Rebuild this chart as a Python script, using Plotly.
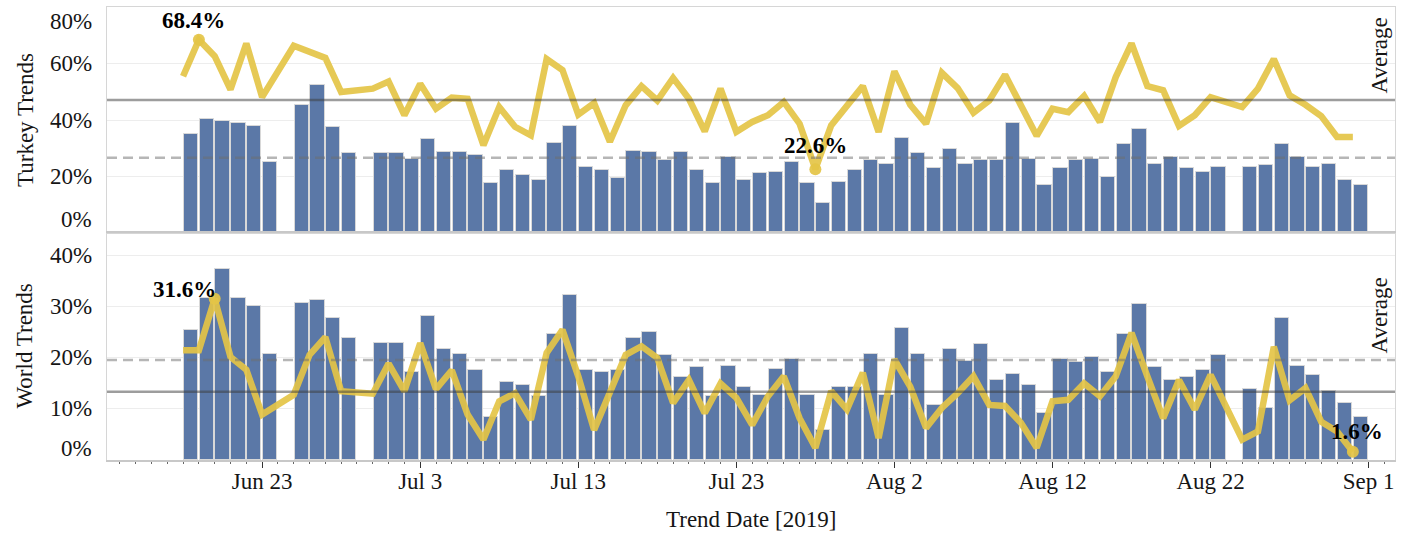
import pandas as pd
import plotly.graph_objects as go
from plotly.subplots import make_subplots

# daily trend dates (three days have no data)
all_days = pd.date_range("2019-06-18", "2019-08-31", freq="D")
missing_days = ["2019-06-24", "2019-06-29", "2019-08-23"]
dates = [d for d in all_days if d.strftime("%Y-%m-%d") not in missing_days]

turkey_bars = [
    35.2, 40.5, 39.7, 39.1, 38.0, 25.2,
    45.4, 52.5, 37.4, 28.4,
    28.4,
    28.4, 26.3, 33.2, 28.6, 28.6, 27.6, 17.6, 22.3, 20.5, 18.8, 32.0, 37.9, 23.3, 22.2, 19.4,
    29.1, 28.5, 25.7, 28.5, 22.2, 17.6, 26.9, 18.8, 21.1, 21.7, 25.2, 17.6, 10.6, 18.2, 22.2, 25.8,
    24.6, 33.8, 28.2, 22.9, 29.9, 24.6, 25.8, 25.8, 39.1, 26.2, 17.0, 22.9, 25.8, 26.3, 20.0,
    31.5, 36.7, 24.6, 27.0, 22.9, 21.7, 23.3,
    23.3, 24.1, 31.5, 27.0, 23.3, 24.6, 18.8, 17.0,
]
turkey_line = [
    55.5, 68.4, 62.6, 50.8, 67.1, 48.1,
    66.3, 64.3, 62.0, 49.9,
    51.1,
    53.6, 41.7, 52.8, 44.0, 47.9, 47.5, 31.1, 44.6, 37.6, 34.6, 61.6, 57.7, 41.9, 46.0, 32.3,
    45.2, 52.0, 46.9, 54.9, 47.5, 36.0, 51.1, 35.8, 39.3, 41.7, 46.4, 38.7, 22.6, 38.1, 45.2, 52.0,
    35.8, 57.2, 45.4, 38.7, 56.7, 51.3, 42.6, 46.9, 56.0, 45.8, 34.4, 44.0, 42.8, 48.5, 39.3,
    55.2, 67.1, 52.0, 50.5, 37.9, 41.7, 48.1,
    44.6, 51.1, 61.6, 48.7, 45.4, 41.4, 34.0, 34.0,
]
world_bars = [
    25.4, 31.8, 37.5, 31.8, 30.1, 20.8,
    30.8, 31.4, 27.8, 24.0,
    22.9,
    22.9, 17.3, 28.2, 21.8, 20.8, 17.6, 8.5, 15.3, 14.7, 12.5, 24.7, 32.4, 17.6, 17.3, 17.6,
    24.0, 25.0, 20.5, 16.3, 18.2, 12.5, 18.5, 14.4, 12.7, 17.9, 19.8, 12.7, 5.9, 14.4, 14.4, 20.8,
    12.7, 25.9, 20.8, 10.8, 21.8, 19.5, 22.7, 15.6, 16.9, 14.7, 9.2, 19.8, 19.2, 20.2, 17.3,
    24.7, 30.5, 18.2, 15.6, 16.3, 17.6, 20.5,
    14.0, 10.2, 27.8, 18.5, 16.6, 13.5, 11.2, 8.5,
]
world_line = [
    21.5, 21.5, 31.6, 20.2, 17.7, 8.9,
    12.8, 20.6, 24.1, 13.5,
    13.0,
    18.9, 13.5, 22.9, 13.9, 17.6, 8.9, 4.0, 11.5, 13.1, 7.9, 21.0, 25.5, 16.4, 5.9, 13.1,
    20.6, 22.3, 20.0, 11.2, 15.7, 9.2, 15.0, 12.2, 6.9, 12.5, 16.4, 8.2, 2.4, 13.5, 9.9, 17.1,
    4.3, 19.7, 14.4, 6.3, 10.2, 13.1, 16.4, 10.8, 10.6, 7.3, 2.4, 11.5, 11.8, 15.0, 12.5,
    16.4, 24.9, 16.4, 8.2, 15.7, 9.9, 16.7,
    4.0, 5.6, 22.2, 11.7, 14.1, 7.5, 5.6, 1.6,
]

# reference lines
turkey_bar_avg = 26.6
turkey_line_avg = 47.1
world_bar_avg = 19.6
world_line_avg = 13.4

turkey_ticks = [0, 20, 40, 60, 80]
world_ticks = [0, 10, 20, 30, 40]

BAR_COLOR = "#5b78a7"
LINE_COLOR = "rgba(228,196,70,0.92)"
FONT = "Liberation Serif"
TEXT = "#151515"

fig = make_subplots(rows=2, cols=1, shared_xaxes=True, vertical_spacing=0)

bar_x = [d + pd.Timedelta(hours=12) for d in dates]
day_ms = 86400000

panels = [
    (1, turkey_bars, turkey_line, turkey_bar_avg, turkey_line_avg),
    (2, world_bars, world_line, world_bar_avg, world_line_avg),
]
for row, bars, line, bar_avg, line_avg in panels:
    fig.add_trace(
        go.Bar(
            x=bar_x,
            y=bars,
            width=0.9 * day_ms,
            marker={"color": BAR_COLOR, "line": {"color": "#d8d8d8", "width": 1}},
        ),
        row=row,
        col=1,
    )
    fig.add_trace(
        go.Scatter(
            x=dates,
            y=line,
            mode="lines",
            line={"color": LINE_COLOR, "width": 6.5},
        ),
        row=row,
        col=1,
    )
    yref = "y" if row == 1 else "y2"
    fig.add_shape(
        type="line", xref="paper", x0=0, x1=1, yref=yref, y0=bar_avg, y1=bar_avg,
        line={"color": "rgba(110,110,110,0.5)", "width": 2.5, "dash": "10px,6px"},
        layer="above",
    )
    fig.add_shape(
        type="line", xref="paper", x0=0, x1=1, yref=yref, y0=line_avg, y1=line_avg,
        line={"color": "rgba(60,60,60,0.5)", "width": 2.5},
        layer="above",
    )

# highlighted extremes on the line: (row, values, picker, xshift, yshift)
extremes = [
    (1, turkey_line, max, -5, 19),
    (1, turkey_line, min, 0, 24),
    (2, world_line, max, -30, 9),
    (2, world_line, min, 4, 20),
]
for row, values, pick, dx, dy in extremes:
    i = values.index(pick(values))
    fig.add_trace(
        go.Scatter(
            x=[dates[i]], y=[values[i]], mode="markers",
            marker={"color": LINE_COLOR, "size": 12},
        ),
        row=row,
        col=1,
    )
    fig.add_annotation(
        x=dates[i], y=values[i], xref="x", yref="y" if row == 1 else "y2",
        text=f"<b>{values[i]:.1f}%</b>", showarrow=False,
        xshift=dx, yshift=dy, font={"size": 23, "color": "#000"},
    )

# y tick labels (edge labels are nudged inside the panel like the original)
for yref, ticks in [("y", turkey_ticks), ("y2", world_ticks)]:
    for t in ticks:
        shift = 0
        if t == ticks[0]:
            shift = 14 if yref == "y" else 12
        elif t == ticks[-1] and yref == "y":
            shift = -14
        fig.add_annotation(
            x=0, xref="paper", xanchor="right", xshift=-13,
            y=t, yref=yref, yshift=shift,
            text=f"{t}%", showarrow=False, font={"size": 23, "color": TEXT},
        )

# axis titles
for yref, title in [("y domain", "Turkey Trends"), ("y2 domain", "World Trends")]:
    fig.add_annotation(
        x=0, xref="paper", xanchor="center", xshift=-82, y=0.5, yref=yref,
        text=title, textangle=-90, showarrow=False, font={"size": 23, "color": TEXT},
    )
fig.add_annotation(
    x=0.5, xref="paper", y=0, yref="paper", yshift=-59, yanchor="middle",
    text="Trend Date [2019]", showarrow=False, font={"size": 23, "color": TEXT},
)
for yref, avg in [("y", turkey_line_avg), ("y2", world_bar_avg)]:
    fig.add_annotation(
        x=1, xref="paper", xanchor="right", xshift=-1,
        y=avg, yref=yref, yanchor="bottom", yshift=4,
        text="Average", textangle=-90, showarrow=False,
        font={"size": 23, "color": TEXT},
    )

x_range = ["2019-06-13 04:30", "2019-09-02 16:00"]
axis_line = {"showline": True, "mirror": True, "linecolor": "#d6d6d6", "linewidth": 1}

fig.update_xaxes(range=x_range, showgrid=False, zeroline=False, **axis_line)
fig.update_xaxes(showticklabels=False, ticks="", row=1, col=1)
fig.update_xaxes(
    row=2,
    col=1,
    linewidth=1.5,
    linecolor="#c8c8c8",
    tick0="2019-06-23",
    dtick=10 * day_ms,
    tickformat="%b %-d",
    ticks="outside",
    ticklen=6,
    tickcolor="#333",
    ticklabelstandoff=-6,
    tickfont={"size": 23, "color": TEXT},
    minor={"dtick": day_ms, "tick0": "2019-06-23", "ticks": "outside", "ticklen": 2,
           "tickcolor": "#666"},
)
fig.update_yaxes(
    showticklabels=False, ticks="", zeroline=False,
    showgrid=True, gridcolor="#ededed", gridwidth=1, **axis_line,
)
fig.update_yaxes(range=[0, 80], tickvals=turkey_ticks, domain=[0.5011, 1], row=1, col=1)
fig.update_yaxes(range=[0, 44.5], tickvals=world_ticks, domain=[0, 0.5011], row=2, col=1)

fig.update_layout(
    width=1407,
    height=533,
    margin={"l": 107, "r": 12, "t": 7, "b": 73},
    plot_bgcolor="white",
    paper_bgcolor="white",
    showlegend=False,
    bargap=0,
    font={"family": FONT, "color": TEXT},
)

# drop the browser's default body margin so the figure sits at the page corner
fig.write_html(
    "out.html",
    config={"displayModeBar": False},
    post_script="document.body.style.margin = '0';",
)
